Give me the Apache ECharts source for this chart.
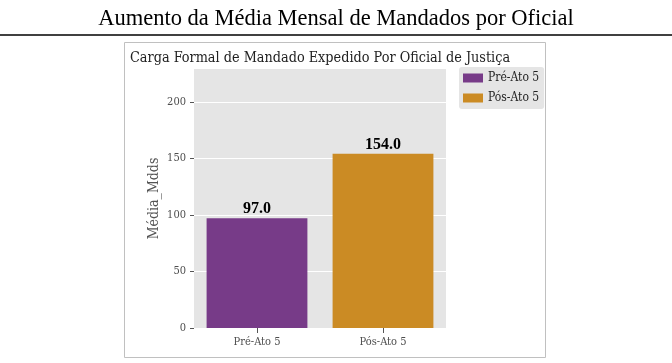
<!DOCTYPE html>
<html>
<head>
<meta charset="utf-8">
<script src="https://cdn.jsdelivr.net/npm/echarts@6/dist/echarts.min.js"></script>
<style>
html,body{margin:0;padding:0;background:#fff;}
#chart{width:672px;height:363px;}
</style>
</head>
<body>
<div id="chart"></div>
<script>
const pageTitle = "Aumento da Média Mensal de Mandados por Oficial";
const chartTitle = "Carga Formal de Mandado Expedido Por Oficial de Justiça";
const categories = ["Pré-Ato 5", "Pós-Ato 5"];
const seriesNames = ["Pré-Ato 5", "Pós-Ato 5"];
const values = [97.0, 154.0];
const yTicks = [0, 50, 100, 150, 200];
const yAxisName = "Média_Mdds";
const colors = ["#773b88", "#cb8b24"];

const SERIF_C = "'DejaVu Serif Condensed', 'DejaVu Serif', serif";
const chart = echarts.init(document.getElementById('chart'), null, {renderer: 'canvas'});

const series = seriesNames.map((name, i) => ({
  name: name,
  type: 'bar',
  stack: 'all',
  barWidth: '80%',
  itemStyle: {color: colors[i]},
  data: categories.map((c, j) => j === i ? values[j] : '-'),
  label: {
    show: true,
    position: 'top',
    distance: 1,
    formatter: p => Number(p.value).toFixed(1),
    color: '#000',
    fontWeight: 'bold',
    fontSize: 16,
    fontFamily: "'Liberation Serif', serif"
  }
}));

chart.setOption({
  animation: false,
  backgroundColor: '#fff',
  title: [{
    text: pageTitle,
    left: 'center',
    top: 3,
    textStyle: {fontFamily: "'Liberation Serif', serif", fontSize: 22.5, fontWeight: 'normal', color: '#000'}
  }, {
    text: chartTitle,
    left: 125,
    top: 46,
    textStyle: {fontFamily: SERIF_C, fontSize: 14.3, fontWeight: 'normal', color: '#222'}
  }],
  graphic: [{
    type: 'line',
    shape: {x1: 0, y1: 35, x2: 672, y2: 35},
    style: {stroke: '#000', lineWidth: 1.5},
    z: 10
  }, {
    type: 'rect',
    shape: {x: 124.5, y: 42.5, width: 421, height: 315},
    style: {fill: 'none', stroke: '#c0c0c0', lineWidth: 1},
    z: -1
  }],
  legend: {
    data: seriesNames,
    orient: 'vertical',
    left: 459,
    top: 67,
    backgroundColor: '#e5e5e5',
    borderRadius: 3,
    padding: [5, 5, 5, 4],
    itemWidth: 20,
    itemHeight: 9,
    itemGap: 8,
    icon: 'rect',
    textStyle: {fontFamily: SERIF_C, fontSize: 12, color: '#222'}
  },
  grid: {left: 194, top: 69, right: 226, bottom: 35, show: true, backgroundColor: '#e5e5e5', borderWidth: 0},
  xAxis: {
    type: 'category',
    data: categories,
    axisLine: {show: false},
    axisTick: {show: true, alignWithLabel: true, length: 5, lineStyle: {color: '#555'}},
    axisLabel: {margin: 9, fontFamily: SERIF_C, fontSize: 11, color: '#4d4d4d'},
    splitLine: {show: false}
  },
  yAxis: {
    type: 'value',
    min: 0,
    max: 229,
    interval: 50,
    name: yAxisName,
    nameLocation: 'middle',
    nameGap: 33,
    nameTextStyle: {fontFamily: SERIF_C, fontSize: 14, color: '#555'},
    axisLine: {show: false},
    axisTick: {show: true, length: 4, customValues: yTicks, lineStyle: {color: '#555'}},
    axisLabel: {
      margin: 8,
      customValues: yTicks,
      fontFamily: SERIF_C, fontSize: 11, color: '#4d4d4d'
    },
    splitLine: {show: true, lineStyle: {color: '#ffffff', width: 1.2}}
  },
  series: series
});
</script>
</body>
</html>
